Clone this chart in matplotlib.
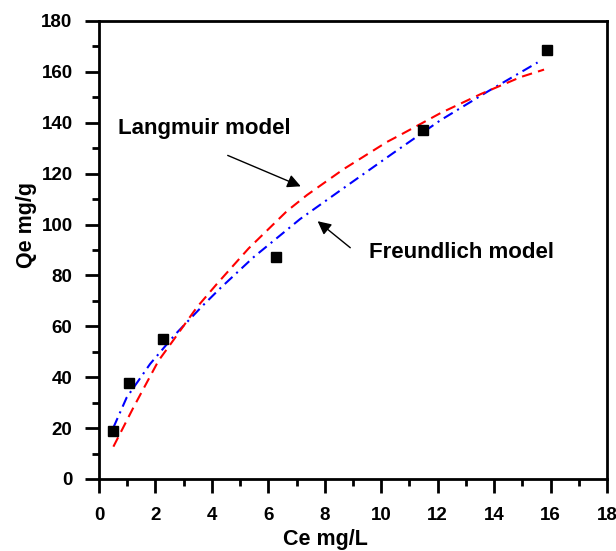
import numpy as np
import matplotlib
matplotlib.use('Agg')
import matplotlib.pyplot as plt

plt.rcParams['font.family'] = ['Liberation Sans', 'DejaVu Sans']
plt.rcParams['font.weight'] = 'bold'

# 实验数据点
ce = [0.50, 1.06, 2.27, 6.28, 11.47, 15.87]
qe = [18.9, 37.8, 55.1, 87.4, 137.0, 168.6]

# Langmuir 拟合曲线
lang_x = [0.51, 1.22, 2.11, 2.58, 3.47, 4.18, 5.30, 6.66, 7.37, 8.67, 10.21, 10.69, 12.10, 13.53, 14.95, 15.77]
lang_y = [12.7, 28.1, 46.5, 53.7, 67.5, 76.7, 90.6, 105.3, 111.6, 121.8, 132.5, 135.3, 143.8, 151.3, 158.0, 160.9]

# Freundlich 拟合曲线
freu_x = [0.51, 0.98, 1.81, 2.70, 3.70, 4.30, 5.48, 7.13, 8.55, 10.40, 12.10, 13.76, 15.54]
freu_y = [20.2, 32.0, 45.2, 56.8, 68.4, 75.0, 87.2, 102.2, 113.4, 127.9, 141.0, 152.2, 163.7]

fig = plt.figure(figsize=(6.16, 5.51), dpi=100)
ax = fig.add_axes([0.1607, 0.1307, 0.8247, 0.8312])

ax.plot(freu_x, freu_y, color='blue', lw=1.5, dashes=(5, 2.5, 1, 2.5))
ax.plot(lang_x, lang_y, color='red', lw=1.5, dashes=(5, 3))
ax.plot(ce, qe, 's', color='black', markersize=6.5)

ax.annotate('Langmuir model', xy=(7.24, 114.6), xytext=(0.67, 137.8),
            fontsize=16, fontweight='bold', va='center', ha='left')
ax.annotate('', xy=(7.24, 114.6), xytext=(4.47, 127.6),
            arrowprops=dict(arrowstyle='-|>', color='black', lw=1, mutation_scale=20))
ax.annotate('Freundlich model', xy=(7.67, 102.0), xytext=(9.58, 89.0),
            fontsize=16, fontweight='bold', va='center', ha='left')
ax.annotate('', xy=(7.67, 102.0), xytext=(8.98, 90.2),
            arrowprops=dict(arrowstyle='-|>', color='black', lw=1, mutation_scale=20))

ax.set_xlim(0, 18)
ax.set_ylim(0, 180)
ax.set_xticks(np.arange(0, 19, 2))
ax.set_xticks(np.arange(1, 18, 2), minor=True)
ax.set_yticks(np.arange(0, 181, 20))
ax.set_yticks(np.arange(10, 180, 20), minor=True)

for s in ax.spines.values():
    s.set_linewidth(2)
ax.tick_params(which='major', direction='out', length=10, width=2, labelsize=13.5)
ax.tick_params(which='minor', direction='out', length=5, width=2)
ax.tick_params(axis='x', which='major', pad=10)
ax.tick_params(axis='y', which='major', pad=9)
for lab in ax.get_xticklabels() + ax.get_yticklabels():
    lab.set_fontweight('bold')

ax.set_xlabel('Ce mg/L', fontsize=15.5, fontweight='bold', va='center')
ax.set_ylabel('Qe mg/g', fontsize=15.5, fontweight='bold', va='center')
ax.xaxis.set_label_coords(0.445, -0.132)
ax.yaxis.set_label_coords(-0.143, 0.5546)

plt.savefig('out.png', dpi=100)
